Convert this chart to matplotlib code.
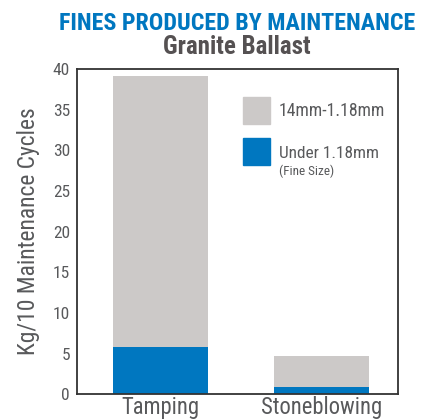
import matplotlib
matplotlib.use("Agg")
import matplotlib.pyplot as plt
from matplotlib import font_manager as fm
from matplotlib.patches import Rectangle

categories = ["Tamping", "Stoneblowing"]
fine = [5.8, 0.85]          # Under 1.18mm
coarse = [33.4, 3.85]       # 14mm-1.18mm (stacked on top)
yticks = [0, 5, 10, 15, 20, 25, 30, 35, 40]
legend_labels = ["14mm-1.18mm", "Under 1.18mm", "(Fine Size)"]
title = "FINES PRODUCED BY MAINTENANCE"
subtitle = "Granite Ballast"
ylabel = "Kg/10 Maintenance Cycles"

# choose a condensed font if one exists
names = {f.name for f in fm.fontManager.ttflist}
FAM = "DejaVu Sans"
STRETCH = "normal"
for cand in ["Liberation Sans Narrow", "Roboto Condensed", "Open Sans Condensed"]:
    if cand in names:
        FAM = cand
        break
else:
    dv = [f for f in fm.fontManager.ttflist if f.name == "DejaVu Sans" and "ondensed" in str(f.stretch) + f.fname]
    if dv:
        STRETCH = "condensed"
plt.rcParams['font.family'] = [FAM, "DejaVu Sans"]
plt.rcParams['font.stretch'] = STRETCH

BLUE = "#0077c0"
GRAY = "#ccc9c8"
TXT = "#58595b"

fig = plt.figure(figsize=(4.22, 4.19), dpi=100)
H = 419.0
W = 422.0
ax = fig.add_axes([77/W, 1-394.3/H, (397.7-77)/W, (394.3-69)/H])

x = range(len(categories))
ax.bar(x, fine, width=0.59, color=BLUE, zorder=2)
ax.bar(x, coarse, width=0.59, bottom=fine, color=GRAY, zorder=2)

ax.set_xlim(-0.52, 1.475)
ax.set_ylim(0, 40)
ax.set_yticks(yticks)
ax.set_xticks(list(x))
ax.set_xticklabels(categories, color=TXT, stretch=STRETCH)
ax.tick_params(axis='y', length=0, labelsize=12.5, labelcolor=TXT, pad=5)
ax.tick_params(axis='x', length=0, pad=1)
for s in ax.spines.values():
    s.set_color("#333333")
    s.set_linewidth(1.3)

# legend
lx0 = 243/W; lw = 27/W; lh = 27/H
fig.patches.append(Rectangle((lx0, 1-124/H), lw, lh, transform=fig.transFigure, color=GRAY))
fig.patches.append(Rectangle((lx0, 1-165/H), lw, lh, transform=fig.transFigure, color=BLUE))
t1 = fig.text(279/W, 1-111.5/H, legend_labels[0], fontsize=12, color=TXT, va='center')
t2 = fig.text(279/W, 1-153.5/H, legend_labels[1], fontsize=12, color=TXT, va='center')
t3 = fig.text(279/W, 1-171.5/H, legend_labels[2], fontsize=8.5, color=TXT, va='center')

tt = fig.text(237/W, 1-23.5/H, title, fontsize=16, fontweight='bold',
              color=BLUE, ha='center', va='center')
st = fig.text(237/W, 1-47/H, subtitle, fontsize=14, fontweight='bold',
              color="#555152", ha='center', va='center')
yl = fig.text(28/W, 1-231.5/H, ylabel, fontsize=14, color=TXT, rotation=90,
              ha='center', va='center')

fig.canvas.draw()
r = fig.canvas.get_renderer()

def fit(t, target, vertical=False, maxsize=None):
    ext = t.get_window_extent(r)
    cur = ext.height if vertical else ext.width
    fs = t.get_fontsize() * target / cur
    if maxsize:
        fs = min(fs, maxsize)
    t.set_fontsize(fs)

fit(tt, 356)
fit(st, 149)
fit(yl, 250, vertical=True, maxsize=17)
fit(t1, 106, maxsize=13.5)
fit(t2, 100, maxsize=13.5)
fit(t3, 58, maxsize=9.5)
xl = ax.get_xticklabels()
fit(xl[0], 78, maxsize=17)
fit(xl[1], 123, maxsize=17)
fs = min(xl[0].get_fontsize(), xl[1].get_fontsize())
for l in xl:
    l.set_fontsize(fs)

fig.savefig("out.png", dpi=100)
